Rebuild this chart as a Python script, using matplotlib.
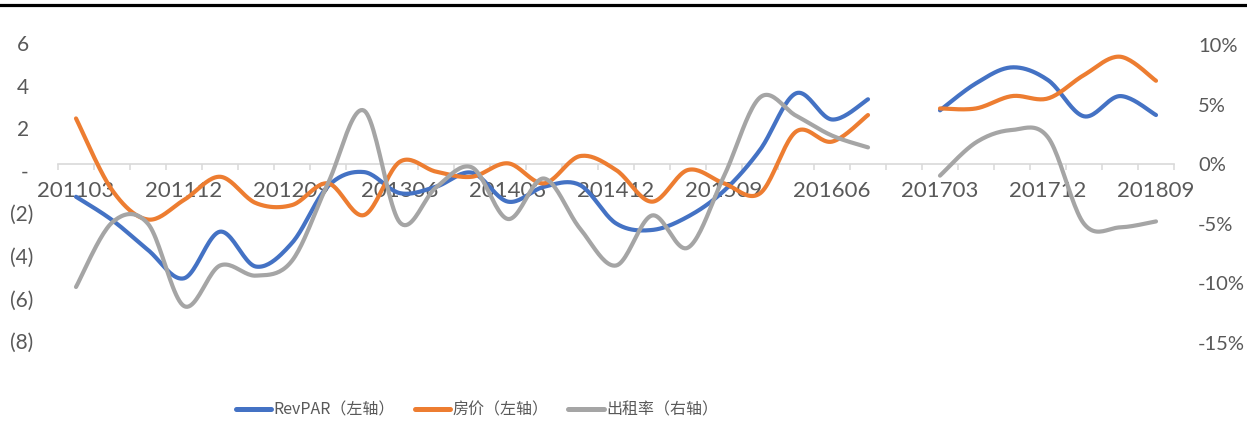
import numpy as np
import matplotlib
matplotlib.use('Agg')
import matplotlib.pyplot as plt
from matplotlib.lines import Line2D
from matplotlib.font_manager import FontProperties

# ---------------- data ----------------
categories = ['201103', '201106', '201109', '201112',
              '201203', '201206', '201209', '201212',
              '201303', '201306', '201309', '201312',
              '201403', '201406', '201409', '201412',
              '201503', '201506', '201509', '201512',
              '201603', '201606', '201609', '201612',
              '201703', '201706', '201709', '201712',
              '201803', '201806', '201809']
tick_labels = categories[::3]

revpar = [-1.13, -2.22, -3.63, -4.96, -2.77, -4.41, -3.3, -0.63,
          0.03, -0.96, -0.66, 0.0, -1.36, -0.66, -0.58, -2.38,
          -2.69, -2.06, -0.85, 1.07, 3.73, 2.5, 3.45, np.nan,
          2.93, 4.2, 4.95, 4.35, 2.65, 3.6, 2.71]
price = [2.55, -0.81, -2.2, -1.28, -0.19, -1.43, -1.52, -0.5,
         -1.99, 0.52, 0.05, -0.19, 0.44, -0.5, 0.78, 0.13,
         -1.36, 0.13, -0.5, -0.97, 1.93, 1.46, 2.71, np.nan,
         3.02, 3.02, 3.6, 3.49, 4.59, 5.45, 4.32]
occupancy = [-10.3, -4.9, -5.0, -11.9, -8.5, -9.35, -8.1, -1.6,
             4.5, -4.9, -1.95, -0.27, -4.6, -1.2, -5.4, -8.5,
             -4.3, -7.0, -1.0, 5.6, 4.07, 2.4, 1.41, np.nan,
             -0.96, 1.83, 2.87, 2.25, -5.0, -5.3, -4.8]

series_names = ['RevPAR（左轴）', '房价（左轴）', '出租率（右轴）']
series_colors = ['#4472C4', '#ED7D31', '#A5A5A5']

left_ticks = [6, 4, 2, 0, -2, -4, -6, -8]
right_ticks = [10, 5, 0, -5, -10, -15]

# ---------------- helpers ----------------
def smooth_segments(yvals, n=24):
    """Excel-like smoothed line (Catmull-Rom Bezier), split at gaps."""
    y = np.asarray(yvals, dtype=float)
    x = np.arange(len(y), dtype=float)
    ok = np.isfinite(y)
    segs = []
    i = 0
    while i < len(y):
        if not ok[i]:
            i += 1
            continue
        j = i
        while j < len(y) and ok[j]:
            j += 1
        pts = np.column_stack([x[i:j], y[i:j]])
        if len(pts) == 1:
            segs.append(pts)
        else:
            P = np.vstack([pts[0], pts, pts[-1]])
            out = []
            t = np.linspace(0, 1, n)[:, None]
            for k in range(len(pts) - 1):
                p0, p1, p2, p3 = P[k], P[k + 1], P[k + 2], P[k + 3]
                c1 = p1 + (p2 - p0) / 6.0
                c2 = p2 - (p3 - p1) / 6.0
                seg = ((1 - t) ** 3) * p1 + 3 * ((1 - t) ** 2) * t * c1 \
                    + 3 * (1 - t) * (t ** 2) * c2 + (t ** 3) * p2
                out.append(seg if k == 0 else seg[1:])
            segs.append(np.vstack(out))
        i = j
    return segs

# ---------------- figure ----------------
W, H = 1247, 423
fig = plt.figure(figsize=(W / 100, H / 100), dpi=100)
fig.patch.set_facecolor('white')

x_left, x_right, y_top, y_bot = 58, 1174, 45, 343
ax = fig.add_axes([x_left / W, 1 - y_bot / H, (x_right - x_left) / W, (y_bot - y_top) / H])
ax2 = ax.twinx()

ax.set_xlim(-0.5, len(categories) - 0.5)
ax.set_ylim(min(left_ticks), max(left_ticks))
ax2.set_ylim(min(right_ticks), max(right_ticks))

for a in (ax, ax2):
    for s in a.spines.values():
        s.set_visible(False)

# lines (all drawn in ax so they sit above the category axis)
ax.set_zorder(ax2.get_zorder() + 1)
ax.patch.set_visible(False)
lw = 3.0
for vals, col, trans in ((revpar, series_colors[0], ax.transData),
                         (price, series_colors[1], ax.transData),
                         (occupancy, series_colors[2], ax2.transData)):
    for seg in smooth_segments(vals):
        ax.plot(seg[:, 0], seg[:, 1], color=col, lw=lw, transform=trans,
                solid_capstyle='round', solid_joinstyle='round', clip_on=False)

# left axis labels (accounting style)
ax.set_yticks([])
ax.xaxis.set_visible(False)
lab_col = '#595959'
num_font = 'Lato'
px2ax = lambda px: (px - x_left) / (x_right - x_left)
for v in left_ticks:
    if v < 0:
        txt, xr = f'({abs(v)})', 33
    elif v == 0:
        txt, xr = '-', 28
    else:
        txt, xr = f'{v}', 29
    ax.text(px2ax(xr), v, txt, transform=ax.get_yaxis_transform(),
            ha='right', va='center', fontsize=15, color=lab_col, family=num_font)

# right axis labels
ax2.set_yticks(right_ticks)
ax2.set_yticklabels([f'{v}%' for v in right_ticks])
ax2.tick_params(axis='y', length=0, pad=17.3, labelsize=14.5, labelcolor=lab_col)
for t in ax2.get_yticklabels():
    t.set_family(num_font)

# category axis crossing at 0% of the right axis
ax2.xaxis.set_visible(True)
ax2.xaxis.set_ticks_position('bottom')
ax2.spines['bottom'].set_visible(True)
ax2.spines['bottom'].set_position(('data', 0))
ax2.spines['bottom'].set_color('#D9D9D9')
ax2.spines['bottom'].set_linewidth(1.2)
ax2.set_xticks(np.arange(0, len(categories), 3))
ax2.set_xticklabels(tick_labels)
ax2.set_xticks(np.arange(-0.5, len(categories), 1), minor=True)
ax2.tick_params(axis='x', which='major', length=0, pad=12, labelsize=16,
                labelcolor=lab_col)
ax2.tick_params(axis='x', which='minor', length=4.3, width=1.1,
                color='#D9D9D9', direction='out')
for t in ax2.get_xticklabels():
    t.set_family(num_font)

# top black rule
fig.add_artist(Line2D([0, 1], [1 - 5.5 / H, 1 - 5.5 / H], transform=fig.transFigure,
                      color='black', lw=2.3))

# legend
handles = [Line2D([], [], color=c, lw=3.6, solid_capstyle='round') for c in series_colors]
leg = fig.legend(handles, series_names, loc='center left',
                 bbox_to_anchor=(236 / W, 1 - 410 / H), ncol=3, frameon=False,
                 handlelength=2.2, handletextpad=0.15, columnspacing=1.25,
                 borderpad=0, borderaxespad=0,
                 prop=FontProperties(family=['Noto Sans CJK SC', 'DejaVu Sans'], size=11.5))
for t in leg.get_texts():
    t.set_color(lab_col)

fig.savefig('out.png', dpi=100, facecolor='white')
